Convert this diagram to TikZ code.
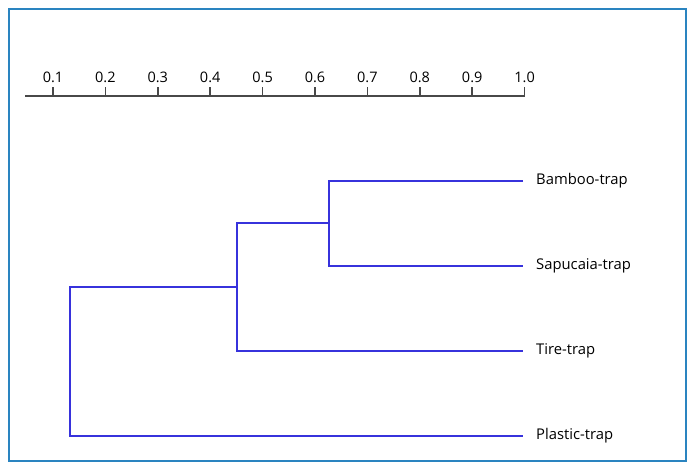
\documentclass[tikz,border=0pt]{standalone}
\usepackage{fontspec}
\setmainfont{Open Sans}
\usetikzlibrary{positioning, calc}
\usepackage{xcolor}
\definecolor{frameblue}{RGB}{42,132,192}
\definecolor{treeblue}{RGB}{55,50,220}
\definecolor{axisgray}{RGB}{72,72,72}

\begin{document}
\begin{tikzpicture}[
    x=1pt, y=-1pt,
    frame/.style={draw=frameblue, line width=2.6pt},
    branch/.style={draw=treeblue, line width=1.7pt},
    scale axis/.style={draw=axisgray, line width=1.8pt},
    tickmark/.style={draw=axisgray, line width=1.5pt},
    ticklabel/.style={anchor=south, inner sep=0pt, font=\fontsize{14.5}{16}\selectfont},
    leaf/.style={anchor=west, inner sep=0pt, font=\fontsize{14.8}{16}\selectfont}
]
\useasboundingbox (0,0) rectangle (698,473);
\draw[frame] (9,9) rectangle (686,461);

% similarity scale
\draw[scale axis] (25,96) -- (525,96);
\foreach \lab [count=\i] in {0.1,0.2,0.3,0.4,0.5,0.6,0.7,0.8,0.9,1.0} {
    \draw[tickmark] ({53+(\i-1)*52.4},96) -- ({53+(\i-1)*52.4},87);
    \node[ticklabel] (tick\i) at ({53+(\i-1)*52.4},83) {\lab};
}

% leaf tips and labels
\coordinate (tbamboo) at (523,181);
\coordinate (tsapucaia) at (523,266);
\coordinate (ttire) at (523,351);
\coordinate (tplastic) at (523,436);
\node[leaf, right=13pt of tbamboo] (bamboo) {Bamboo-trap};
\node[leaf, right=13pt of tsapucaia] (sapucaia) {Sapucaia-trap};
\node[leaf, right=13pt of ttire] (tire) {Tire-trap};
\node[leaf, right=13pt of tplastic] (plastic) {Plastic-trap};

% merge points
\coordinate (m1) at (329,223);
\coordinate (m2) at (237,287);
\coordinate (m3) at (70,362);

\draw[branch] (tbamboo) -| (m1) |- (tsapucaia);
\draw[branch] (m1) -| (m2) |- (ttire);
\draw[branch] (m2) -| (m3) |- (tplastic);

\end{tikzpicture}
\end{document}
